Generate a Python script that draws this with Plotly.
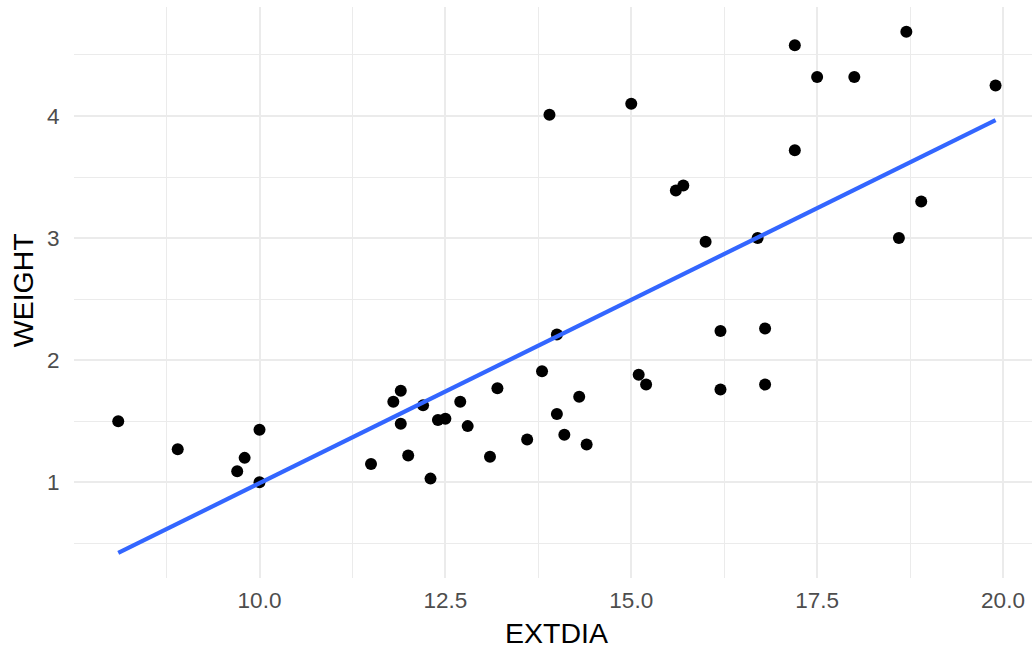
import numpy as np
import plotly.graph_objects as go

extdia = [8.1, 8.9, 10.0, 9.8, 9.7, 10.0, 11.5,
          14.0, 13.8, 11.9, 11.8, 12.2, 13.2, 12.7, 14.3, 11.9, 12.4, 12.5, 12.8,
          14.0, 13.6, 14.1, 14.4, 12.0, 13.1, 12.3, 15.1, 15.2,
          15.6, 15.7, 16.0, 16.7, 18.9, 18.6, 16.2, 16.8, 16.2, 16.8,
          13.9, 15.0, 17.2, 17.5, 18.0, 18.7, 19.9, 17.2]
weight = [1.50, 1.27, 1.43, 1.20, 1.09, 1.00, 1.15,
          2.21, 1.91, 1.75, 1.66, 1.63, 1.77, 1.66, 1.70, 1.48, 1.51, 1.52, 1.46,
          1.56, 1.35, 1.39, 1.31, 1.22, 1.21, 1.03, 1.88, 1.80,
          3.39, 3.43, 2.97, 3.00, 3.30, 3.00, 2.24, 2.26, 1.76, 1.80,
          4.01, 4.10, 4.58, 4.32, 4.32, 4.69, 4.25, 3.72]

x_ticks = [10.0, 12.5, 15.0, 17.5, 20.0]
x_tick_labels = ["10.0", "12.5", "15.0", "17.5", "20.0"]
y_ticks = [1, 2, 3, 4]
y_tick_labels = ["1", "2", "3", "4"]
x_title = "EXTDIA"
y_title = "WEIGHT"

# linear fit (geom_smooth(method = "lm"))
slope, intercept = np.polyfit(extdia, weight, 1)
fit_x = [min(extdia), max(extdia)]
fit_y = [intercept + slope * v for v in fit_x]

FONT = "Liberation Sans, Arial, sans-serif"
GRID = "#EBEBEB"

fig = go.Figure()
fig.add_trace(go.Scatter(
    x=extdia, y=weight, mode="markers",
    marker=dict(color="black", size=12, line=dict(width=0)),
    showlegend=False, hoverinfo="x+y"))
fig.add_trace(go.Scatter(
    x=fit_x, y=fit_y, mode="lines",
    line=dict(color="#3366FF", width=4.2),
    showlegend=False))

fig.update_layout(
    width=1032, height=647,
    margin=dict(l=74, r=0, t=7, b=69),
    paper_bgcolor="white", plot_bgcolor="white",
    font=dict(family=FONT, color="black"),
    xaxis=dict(
        range=[7.505, 20.39], automargin=False,
        tickmode="array", tickvals=x_ticks, ticktext=x_tick_labels,
        showgrid=True, gridcolor=GRID, gridwidth=2.2,
        minor=dict(tickmode="array", tickvals=[8.75, 11.25, 13.75, 16.25, 18.75],
                   showgrid=True, gridcolor=GRID, gridwidth=1.1, ticks=""),
        zeroline=False, showline=False,
        ticks="outside", ticklen=2, tickcolor="rgba(0,0,0,0)",
        tickfont=dict(size=22.5, color="#4D4D4D", family=FONT),
    ),
    yaxis=dict(
        range=[0.216, 4.893], automargin=False,
        tickmode="array", tickvals=y_ticks, ticktext=y_tick_labels,
        showgrid=True, gridcolor=GRID, gridwidth=2.2,
        minor=dict(tickmode="array", tickvals=[0.5, 1.5, 2.5, 3.5, 4.5],
                   showgrid=True, gridcolor=GRID, gridwidth=1.1, ticks=""),
        zeroline=False, showline=False,
        ticks="outside", ticklen=9, tickcolor="rgba(0,0,0,0)",
        tickfont=dict(size=22.5, color="#4D4D4D", family=FONT),
    ),
    annotations=[
        dict(text=x_title, xref="paper", yref="paper", x=0.504, y=0,
             xanchor="center", yanchor="middle", yshift=-55, showarrow=False,
             font=dict(size=28.5, color="black", family=FONT)),
        dict(text=y_title, xref="paper", yref="paper", x=0, y=0.504,
             xanchor="center", yanchor="middle", xshift=-51, textangle=-90,
             showarrow=False, font=dict(size=28.5, color="black", family=FONT)),
    ],
)

fig.write_html("out.html",
               config={"displayModeBar": False},
               post_script="document.body.style.margin='0';document.body.style.overflow='hidden';")
